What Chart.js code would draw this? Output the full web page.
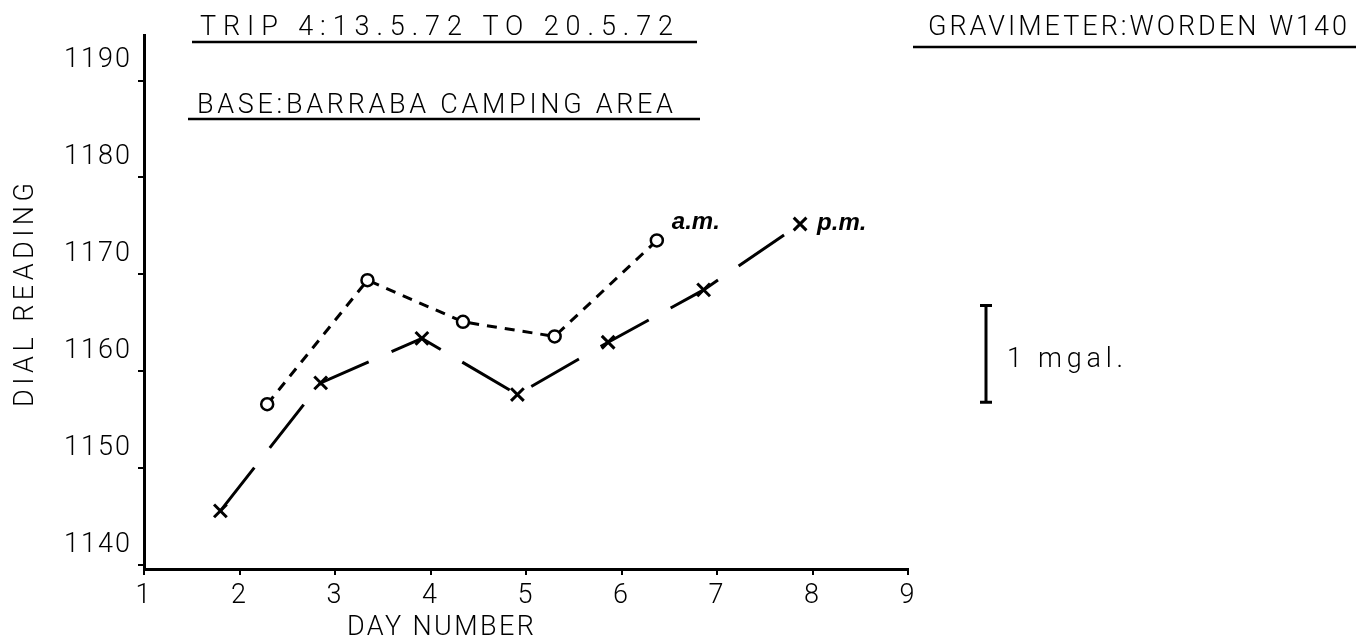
<!DOCTYPE html>
<html>
<head>
<meta charset="utf-8">
<script src="https://cdn.jsdelivr.net/npm/chart.js@4"></script>
<style>
body { margin: 0; background: #fff; }
</style>
</head>
<body>
<canvas id="drift" width="1356" height="640"></canvas>
<script>
const x_ticks = [1, 2, 3, 4, 5, 6, 7, 8, 9];
const y_ticks = [1140, 1150, 1160, 1170, 1180, 1190];
const am_days = [2.29, 3.34, 4.34, 5.30, 6.37];
const am_readings = [1156.6, 1169.4, 1165.1, 1163.6, 1173.5];
const pm_days = [1.80, 2.85, 3.91, 4.91, 5.86, 6.86, 7.87];
const pm_readings = [1145.6, 1158.8, 1163.4, 1157.6, 1163.0, 1168.4, 1175.2];
const mgal_top = 1166.8;   // where the scale bar starts
const mgal_span = 10;      // dial divisions per mgal

const FONT = "Roboto";

function pairs(xs, ys) {
    return xs.map((x, i) => ({ x: x, y: ys[i] }));
}

// draw text stretched out to a given width, like the stencil lettering
function spaced(ctx, text, x, y, width) {
    ctx.letterSpacing = '0px';
    let w = ctx.measureText(text).width;
    ctx.letterSpacing = ((width - w) / (text.length - 1)) + 'px';
    ctx.fillText(text, x, y);
    ctx.letterSpacing = '0px';
}

function underline(ctx, x1, x2, y) {
    ctx.beginPath();
    ctx.moveTo(x1, y);
    ctx.lineTo(x2, y);
    ctx.stroke();
}

const lettering = {
    id: 'lettering',
    beforeDraw(chart) {
        chart.ctx.letterSpacing = '2px';
    },
    afterDraw(chart) {
        let ctx = chart.ctx;
        ctx.save();
        ctx.fillStyle = '#000';
        ctx.strokeStyle = '#000';
        ctx.textAlign = 'left';
        ctx.textBaseline = 'alphabetic';

        ctx.font = "300 27px " + FONT;
        spaced(ctx, "TRIP 4:13.5.72 TO 20.5.72", 200, 35, 473);
        spaced(ctx, "BASE:BARRABA CAMPING AREA", 197, 113, 476);
        spaced(ctx, "DAY NUMBER", 347, 635, 187);
        spaced(ctx, "1 mgal.", 1007, 367, 116);
        spaced(ctx, "GRAVIMETER:WORDEN W140", 928, 35, 419);

        ctx.save();
        ctx.translate(33, 407);
        ctx.rotate(-Math.PI / 2);
        spaced(ctx, "DIAL READING", 0, 0, 224);
        ctx.restore();

        ctx.lineWidth = 2.5;
        underline(ctx, 192, 697, 42);
        underline(ctx, 188, 700, 119);
        underline(ctx, 913, 1356, 47);

        // scale bar for 1 mgal
        let y = chart.scales.y;
        let top = y.getPixelForValue(mgal_top);
        let bottom = y.getPixelForValue(mgal_top - mgal_span);
        ctx.lineWidth = 3;
        ctx.beginPath();
        ctx.moveTo(986, top);
        ctx.lineTo(986, bottom);
        ctx.moveTo(980, top);
        ctx.lineTo(992, top);
        ctx.moveTo(980, bottom);
        ctx.lineTo(992, bottom);
        ctx.stroke();

        // hand written series labels next to the last point
        ctx.font = "italic bold 24px 'Liberation Sans'";
        let am_last = chart.getDatasetMeta(0).data.at(-1);
        let pm_last = chart.getDatasetMeta(1).data.at(-1);
        ctx.fillText("a.m.", am_last.x + 15, am_last.y - 11);
        ctx.fillText("p.m.", pm_last.x + 17, pm_last.y + 6);
        ctx.restore();
    }
};

const axis_grid = {
    display: true,
    drawOnChartArea: false,
    drawTicks: true,
    tickLength: 6,
    color: '#000',
    lineWidth: 2
};

new Chart(document.getElementById('drift').getContext('2d'), {
    type: 'scatter',
    data: {
        datasets: [{
            label: 'a.m.',
            data: pairs(am_days, am_readings),
            showLine: true,
            borderColor: '#000',
            borderWidth: 3,
            borderDash: [10, 8],
            pointStyle: 'circle',
            pointRadius: 6,
            pointBorderWidth: 2.5,
            pointBackgroundColor: '#fff',
            pointBorderColor: '#000'
        }, {
            label: 'p.m.',
            data: pairs(pm_days, pm_readings),
            showLine: true,
            borderColor: '#000',
            borderWidth: 3,
            borderDash: [55, 25],
            pointStyle: 'crossRot',
            pointRadius: 9,
            pointBorderWidth: 3,
            pointBorderColor: '#000'
        }]
    },
    options: {
        responsive: false,
        animation: false,
        layout: { padding: { top: 35, right: 448, left: 0, bottom: 0 } },
        plugins: {
            legend: { display: false },
            tooltip: { enabled: false }
        },
        scales: {
            x: {
                type: 'linear',
                min: 1,
                max: 9,
                afterFit: s => { s.height = 71; },
                afterBuildTicks: s => { s.ticks = x_ticks.map(v => ({ value: v })); },
                border: { display: true, color: '#000', width: 3 },
                grid: axis_grid,
                ticks: {
                    color: '#000',
                    padding: 5,
                    maxRotation: 0,
                    callback: v => String(v),
                    font: { family: FONT, size: 27, weight: 300 }
                }
            },
            y: {
                type: 'linear',
                min: 1139.6,
                max: 1194.7,
                afterFit: s => { s.width = 144; },
                afterBuildTicks: s => { s.ticks = y_ticks.map(v => ({ value: v })); },
                border: { display: true, color: '#000', width: 3 },
                grid: axis_grid,
                ticks: {
                    color: '#000',
                    padding: 6,
                    labelOffset: -20,
                    callback: v => String(v),
                    font: { family: FONT, size: 27, weight: 300 }
                }
            }
        }
    },
    plugins: [lettering]
});
</script>
</body>
</html>
